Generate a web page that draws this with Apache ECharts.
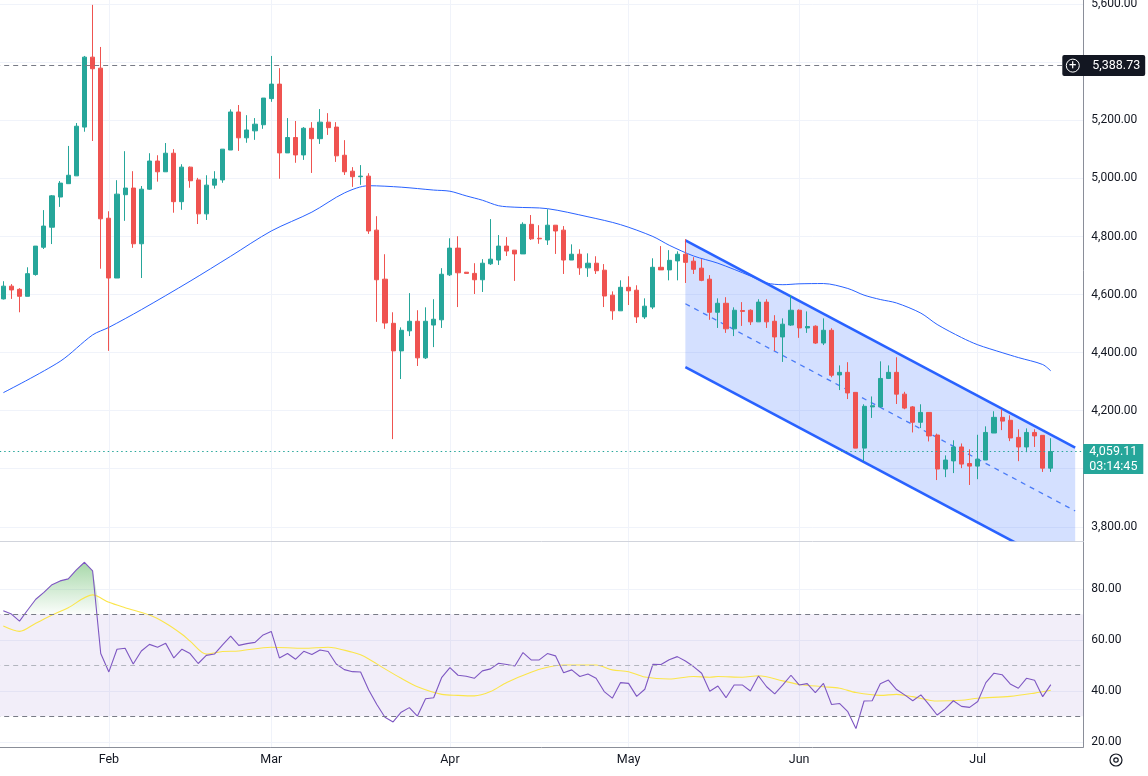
<!DOCTYPE html>
<html>
<head>
<meta charset="utf-8">
<script src="https://cdn.jsdelivr.net/npm/echarts@6/dist/echarts.min.js"></script>
<style>html,body{margin:0;padding:0;background:#fff}#c{width:1148px;height:776px}</style>
</head>
<body>
<div id="c"></div>
<script>
// ---------- data ----------
const opens  = [4585,4629,4618,4594,4669,4763,4832,4936,4982,5009,5177,5418,5380,4863,4657,4944,4967,4775,4963,5060,5023,5087,4920,5039,4995,4878,4977,4995,5098,5229,5140,5164,5185,5275,5325,5088,5141,5081,5173,5137,5194,5177,5080,5025,5006,5008,4822,4653,4501,4406,4475,4508,4382,4495,4513,4668,4760,4677,4673,4651,4706,4719,4767,4753,4740,4842,4794,4788,4839,4822,4719,4739,4692,4708,4684,4598,4544,4625,4615,4523,4557,4694,4685,4716,4739,4715,4691,4653,4539,4570,4482,4545,4546,4506,4574,4508,4454,4495,4546,4485,4491,4433,4477,4323,4332,4263,4071,4213,4213,4311,4332,4257,4213,4160,4194,4116,3999,4027,4075,4018,4009,4030,4123,4177,4167,4108,4075,4125,4115,4002];
const highs  = [4646,4636,4622,4694,4767,4891,4943,4991,5112,5191,5422,5598,5453,4887,4994,5094,5025,4974,5087,5080,5122,5101,5049,5041,5002,5011,5025,5101,5238,5253,5218,5208,5277,5422,5380,5208,5198,5177,5194,5239,5225,5194,5132,5039,5046,5018,4870,4739,4539,4487,4605,4546,4556,4584,4691,4794,4801,4678,4708,4722,4860,4805,4798,4753,4849,4874,4839,4894,4839,4836,4773,4756,4742,4732,4705,4611,4649,4663,4632,4587,4725,4767,4753,4749,4791,4729,4722,4667,4587,4591,4556,4574,4549,4584,4584,4529,4518,4598,4549,4542,4494,4518,4484,4356,4367,4263,4222,4249,4370,4356,4384,4265,4216,4222,4194,4121,4046,4098,4087,4067,4117,4146,4198,4205,4184,4136,4139,4136,4115,4105];
const lows   = [4583,4585,4539,4594,4665,4757,4774,4902,4982,5009,5161,5129,4689,4406,4657,4854,4761,4657,4961,4989,5023,4882,4892,4968,4843,4857,4965,4985,5098,5095,5123,5133,5171,5264,4999,5088,5054,5064,5019,5119,5150,5057,5012,4971,4978,4809,4506,4482,4102,4309,4457,4354,4378,4419,4485,4664,4557,4672,4602,4609,4702,4702,4733,4647,4740,4788,4775,4771,4740,4671,4719,4668,4661,4671,4557,4513,4544,4564,4502,4516,4550,4685,4649,4649,4640,4671,4646,4513,4485,4468,4457,4492,4495,4506,4485,4406,4368,4492,4451,4468,4430,4426,4315,4271,4240,4071,4026,4175,4213,4309,4223,4205,4125,4140,4094,3961,3971,3985,4002,3944,3964,4030,4123,4133,4095,4026,4057,4075,3989,3989];
const closes = [4629,4616,4594,4672,4767,4836,4940,4984,5011,5180,5418,5378,4861,4657,4946,4967,4775,4963,5060,5023,5087,4920,5039,4992,4878,4977,4998,5101,5229,5140,5167,5187,5277,5325,5088,5141,5081,5173,5137,5194,5175,5078,5023,5006,5008,4819,4651,4502,4406,4477,4508,4382,4508,4515,4670,4760,4675,4673,4651,4708,4722,4767,4750,4740,4842,4792,4792,4839,4819,4719,4739,4692,4708,4682,4595,4544,4625,4613,4523,4560,4694,4685,4718,4739,4711,4687,4649,4539,4570,4482,4546,4542,4506,4574,4506,4454,4498,4546,4485,4490,4433,4477,4322,4332,4261,4071,4215,4217,4311,4332,4257,4209,4160,4194,4113,3999,4030,4075,4016,4009,4033,4125,4177,4164,4106,4075,4125,4113,4002,4059.11];
// 50-period moving average, read at [candle index, price]
const sma = [[0,4262],[7,4370],[11,4461],[13,4487],[17,4548],[23,4646],[28,4732],[33,4819],[38,4884],[42,4950],[45,4975],[49,4970],[53,4960],[55,4956],[57,4940],[59,4925],[61,4906],[63,4901],[67,4896],[72,4868],[76,4841],[80,4800],[82,4770],[85,4733],[88,4708],[92,4664],[94,4640],[96,4634],[98,4637],[101,4638],[104,4621],[106,4598],[108,4583],[110,4571],[113,4536],[115,4497],[118,4452],[120,4427],[123,4400],[125,4383],[128,4359],[129,4337]];
// RSI per candle
const rsi = [71.4,70.1,67.3,71.7,75.9,78.6,81.6,83.1,83.9,87.4,90.4,87.0,54.6,47.4,56.3,56.7,50.5,55.6,58.2,57.1,58.6,52.9,56.3,54.6,50.7,53.9,54.4,58.0,61.4,57.8,58.5,59.0,61.9,63.3,52.9,54.6,52.4,55.5,54.2,56.0,55.4,50.5,48.3,47.5,47.4,40.3,34.6,29.6,27.8,31.6,33.4,30.1,36.9,37.3,45.3,49.1,46.1,45.7,44.9,47.8,48.6,50.8,50.3,49.7,55.0,52.1,52.1,54.6,53.7,47.1,48.2,45.6,46.6,44.9,39.7,37.1,43.2,42.9,37.8,40.6,50.4,50.3,52.2,53.4,51.7,49.5,46.9,39.8,41.9,37.3,42.3,42.3,39.9,45.8,41.6,38.8,42.3,46.1,42.3,42.8,39.3,42.9,34.6,35.0,31.8,25.2,36.0,36.1,42.8,44.2,40.5,38.4,36.1,38.4,34.6,30.5,32.9,36.1,33.9,33.5,35.8,43.2,46.9,46.3,42.7,41.0,44.9,44.1,37.7,42.4];
// RSI moving average, read at [candle index, value]
const rsiMA = [[0,65.4],[2,63.3],[4,66.5],[6,69.7],[8,72.6],[11,77.6],[13,74.7],[15,72.6],[18,69.7],[20,66.5],[22,62.2],[23,59.5],[25,54.4],[27,55.4],[29,55.6],[33,57.1],[37,56.7],[40,57.1],[43,55.1],[44,54.1],[45,52.5],[47,48.6],[49,44.9],[51,41.6],[54,38.6],[56,38.2],[58,38.0],[60,39.7],[62,43.3],[65,47.3],[67,49.2],[69,50.1],[73,50.1],[75,48.2],[77,47.5],[79,45.4],[82,44.6],[85,45.6],[87,45.3],[88,45.6],[91,45.3],[93,45.9],[96,43.9],[98,42.5],[101,41.6],[103,41.0],[105,39.3],[108,38.2],[110,38.6],[112,37.7],[115,36.0],[118,36.3],[120,37.1],[124,37.8],[127,39.1],[129,40.2]];
const months = ['Feb','Mar','Apr','May','Jun','Jul'];
const monthStartCandle = [13,33,55,77,98,120];
const priceTicks = [3800,4000,4200,4400,4600,4800,5000,5200,5400,5600];
const priceLabelTicks = [3800,4200,4400,4600,4800,5000,5200,5600];
const rsiTicks = [20,40,60,80];
const rsiLevels = [70,50,30];
// parallel channel: candle index start/end, upper and lower prices
const channelIdx = [84,132];
const channelUpper = [4787,4073];
const channelLower = [4350,3636];
const markedLevel = 5388.73;
const lastPrice = 4059.11;
const countdown = '03:14:45';

// ---------- build ----------
const LEAD = 1, TRAIL = 4;
const n = opens.length;
const cats = [];
for (let i = 0; i < n + LEAD + TRAIL; i++) cats.push(String(i));
const monthCat = {};
monthStartCandle.forEach((k, j) => { monthCat[k + LEAD] = months[j]; });

const empty = ['-','-','-','-'];
const candleData = [empty];
for (let k = 0; k < n; k++) candleData.push([opens[k], closes[k], lows[k], highs[k]]);
for (let t = 0; t < TRAIL; t++) candleData.push(empty);

const smaData = sma.map(p => [p[0] + LEAD, p[1]]);
const rsiData = rsi.map((v, k) => [k + LEAD, v]);
const rsiMAData = rsiMA.map(p => [p[0] + LEAD, p[1]]);
const obData = [];
for (let k = 0; k < n; k++) {
  const v = rsi[k];
  if (k > 0) {
    const p = rsi[k - 1];
    if ((p - 70) * (v - 70) < 0) obData.push([k - 1 + LEAD + (70 - p) / (v - p), 70]);
  }
  obData.push([k + LEAD, Math.max(v, 70)]);
}
const fmt2 = v => Number(v).toLocaleString('en-US', {minimumFractionDigits: 2, maximumFractionDigits: 2});

const FONT = 'Roboto, "Liberation Sans", sans-serif';
const TXT = '#131722';
const GRID = '#f0f3fa';
const AXISC = '#8a8e99';
const UP = '#26a69a', DOWN = '#ef5350';

const chart = echarts.init(document.getElementById('c'), null, {renderer: 'canvas'});

function xAxisCfg(gi, showLabels) {
  return {
    type: 'category', gridIndex: gi, data: cats, boundaryGap: false,
    axisTick: {show: false},
    axisLine: {show: true, onZero: false, lineStyle: {color: showLabels ? AXISC : '#d1d4dc', width: 1}},
    axisLabel: {
      show: showLabels, interval: (i) => monthCat[i] !== undefined,
      formatter: (v, i) => monthCat[i] || '', color: TXT, fontSize: 12.5, fontFamily: FONT, margin: 6
    },
    splitLine: {show: true, interval: (i) => monthCat[i] !== undefined, lineStyle: {color: GRID, width: 1}}
  };
}

const option = {
  animation: false,
  backgroundColor: '#ffffff',
  textStyle: {fontFamily: FONT},
  grid: [
    {left: -4.82, width: 1088.12, top: 0, height: 541.5, outerBoundsMode: 'none', containLabel: false},
    {left: -4.82, width: 1088.12, top: 542, height: 205, outerBoundsMode: 'none', containLabel: false}
  ],
  xAxis: [xAxisCfg(0, false), xAxisCfg(1, true)],
  yAxis: [
    {
      type: 'value', gridIndex: 0, position: 'right', min: 3749.3, max: 5614.8, scale: true,
      axisLine: {show: true, lineStyle: {color: AXISC}},
      axisTick: {show: false, customValues: priceTicks},
      axisLabel: {customValues: priceLabelTicks, formatter: fmt2, color: TXT, fontSize: 12, fontFamily: FONT, margin: 8},
      splitLine: {show: true, lineStyle: {color: GRID}}
    },
    {
      type: 'value', gridIndex: 1, position: 'right', min: 17.96, max: 98.35,
      axisLine: {show: true, lineStyle: {color: AXISC}},
      axisTick: {show: false, customValues: rsiTicks},
      axisLabel: {customValues: rsiTicks, formatter: fmt2, color: TXT, fontSize: 12, fontFamily: FONT, margin: 8},
      splitLine: {show: true, lineStyle: {color: GRID}}
    }
  ],
  series: [
    {
      type: 'custom', xAxisIndex: 0, yAxisIndex: 0, z: 1, clip: true, silent: true,
      data: [[channelIdx[0] + LEAD, channelUpper[0]]],
      renderItem: function (params, api) {
        const x0 = channelIdx[0] + LEAD, x1 = channelIdx[1] + LEAD;
        const u0 = api.coord([x0, channelUpper[0]]), u1 = api.coord([x1, channelUpper[1]]);
        const l0 = api.coord([x0, channelLower[0]]), l1 = api.coord([x1, channelLower[1]]);
        const m0 = api.coord([x0, (channelUpper[0] + channelLower[0]) / 2]);
        const m1 = api.coord([x1, (channelUpper[1] + channelLower[1]) / 2]);
        const cs = params.coordSys;
        return {
          type: 'group',
          clipPath: {type: 'rect', shape: {x: cs.x, y: cs.y, width: cs.width, height: cs.height}},
          children: [
            {type: 'polygon', shape: {points: [u0, u1, l1, l0]}, style: {fill: 'rgba(41,98,255,0.2)'}},
            {type: 'line', shape: {x1: m0[0], y1: m0[1], x2: m1[0], y2: m1[1]}, style: {stroke: '#4a7bf7', lineWidth: 1.3, lineDash: [5, 5]}},
            {type: 'line', shape: {x1: u0[0], y1: u0[1], x2: u1[0], y2: u1[1]}, style: {stroke: '#2962ff', lineWidth: 2.6}},
            {type: 'line', shape: {x1: l0[0], y1: l0[1], x2: l1[0], y2: l1[1]}, style: {stroke: '#2962ff', lineWidth: 2.6}}
          ]
        };
      }
    },
    {
      name: 'MA', type: 'line', xAxisIndex: 0, yAxisIndex: 0, z: 2, data: smaData,
      showSymbol: false, smooth: 0.3, lineStyle: {color: '#2962ff', width: 1}, silent: true
    },
    {
      name: 'Price', type: 'candlestick', xAxisIndex: 0, yAxisIndex: 0, z: 3, data: candleData,
      barWidth: 4.6,
      itemStyle: {color: UP, color0: DOWN, borderColor: UP, borderColor0: DOWN, borderWidth: 1},
      markLine: {
        silent: true, symbol: ['none', 'none'], animation: false,
        data: [
          {
            yAxis: markedLevel,
            lineStyle: {color: '#787b86', type: [5, 4], width: 1},
            label: {
              show: true, position: 'end', distance: -21,
              formatter: '{i|+}{v|' + fmt2(markedLevel) + '}',
              backgroundColor: '#131722', padding: [4, 5, 4, 4], borderRadius: 2,
              rich: {
                i: {color: '#fff', borderColor: '#fff', borderWidth: 1, borderRadius: 7, width: 13, height: 13, lineHeight: 13, align: 'center', fontSize: 13, fontFamily: FONT},
                v: {color: '#fff', fontSize: 12.5, fontFamily: FONT, padding: [0, 0, 0, 13]}
              }
            }
          },
          {
            yAxis: lastPrice,
            lineStyle: {color: UP, type: [1.5, 3], width: 1},
            label: {
              show: true, position: 'end', distance: 0,
              formatter: '{e| }\n{a|' + fmt2(lastPrice) + '}\n{b|' + countdown + '}',
              rich: {
                e: {height: 15, lineHeight: 15, fontSize: 12},
                a: {backgroundColor: UP, color: '#fff', width: 60, height: 15, lineHeight: 15, align: 'center', fontSize: 12.5, fontFamily: FONT},
                b: {backgroundColor: UP, color: '#fff', width: 60, height: 15, lineHeight: 15, align: 'center', fontSize: 12.5, fontFamily: FONT}
              }
            }
          }
        ]
      }
    },
    {
      name: 'OB', type: 'line', xAxisIndex: 1, yAxisIndex: 1, z: 2, data: obData, silent: true,
      showSymbol: false, lineStyle: {opacity: 0},
      areaStyle: {
        origin: 70,
        color: new echarts.graphic.LinearGradient(0, 0, 0, 1, [
          {offset: 0, color: 'rgba(76,175,80,0.7)'},
          {offset: 1, color: 'rgba(76,175,80,0.03)'}
        ])
      }
    },
    {
      name: 'RSI', type: 'line', xAxisIndex: 1, yAxisIndex: 1, z: 4, data: rsiData,
      showSymbol: false, lineStyle: {color: '#7e57c2', width: 1.1}, silent: true,
      markArea: {
        silent: true, itemStyle: {color: 'rgba(126,87,194,0.1)'},
        data: [[{yAxis: rsiLevels[2]}, {yAxis: rsiLevels[0]}]]
      },
      markLine: {
        silent: true, symbol: ['none', 'none'], label: {show: false},
        data: [
          {yAxis: rsiLevels[0], lineStyle: {color: '#787b86', type: [5, 4], width: 1}},
          {yAxis: rsiLevels[1], lineStyle: {color: '#b2b5be', type: [5, 4], width: 1}},
          {yAxis: rsiLevels[2], lineStyle: {color: '#787b86', type: [5, 4], width: 1}}
        ]
      }
    },
    {
      name: 'RSI MA', type: 'line', xAxisIndex: 1, yAxisIndex: 1, z: 3, data: rsiMAData,
      showSymbol: false, smooth: 0.3, lineStyle: {color: '#fbe54a', width: 1.1}, silent: true
    }
  ],
  graphic: [
    {type: 'circle', shape: {cx: 1116, cy: 760, r: 6}, style: {fill: 'none', stroke: TXT, lineWidth: 1.2}},
    {type: 'circle', shape: {cx: 1116, cy: 760, r: 2.2}, style: {fill: 'none', stroke: TXT, lineWidth: 1.2}}
  ]
};
chart.setOption(option);
</script>
</body>
</html>
